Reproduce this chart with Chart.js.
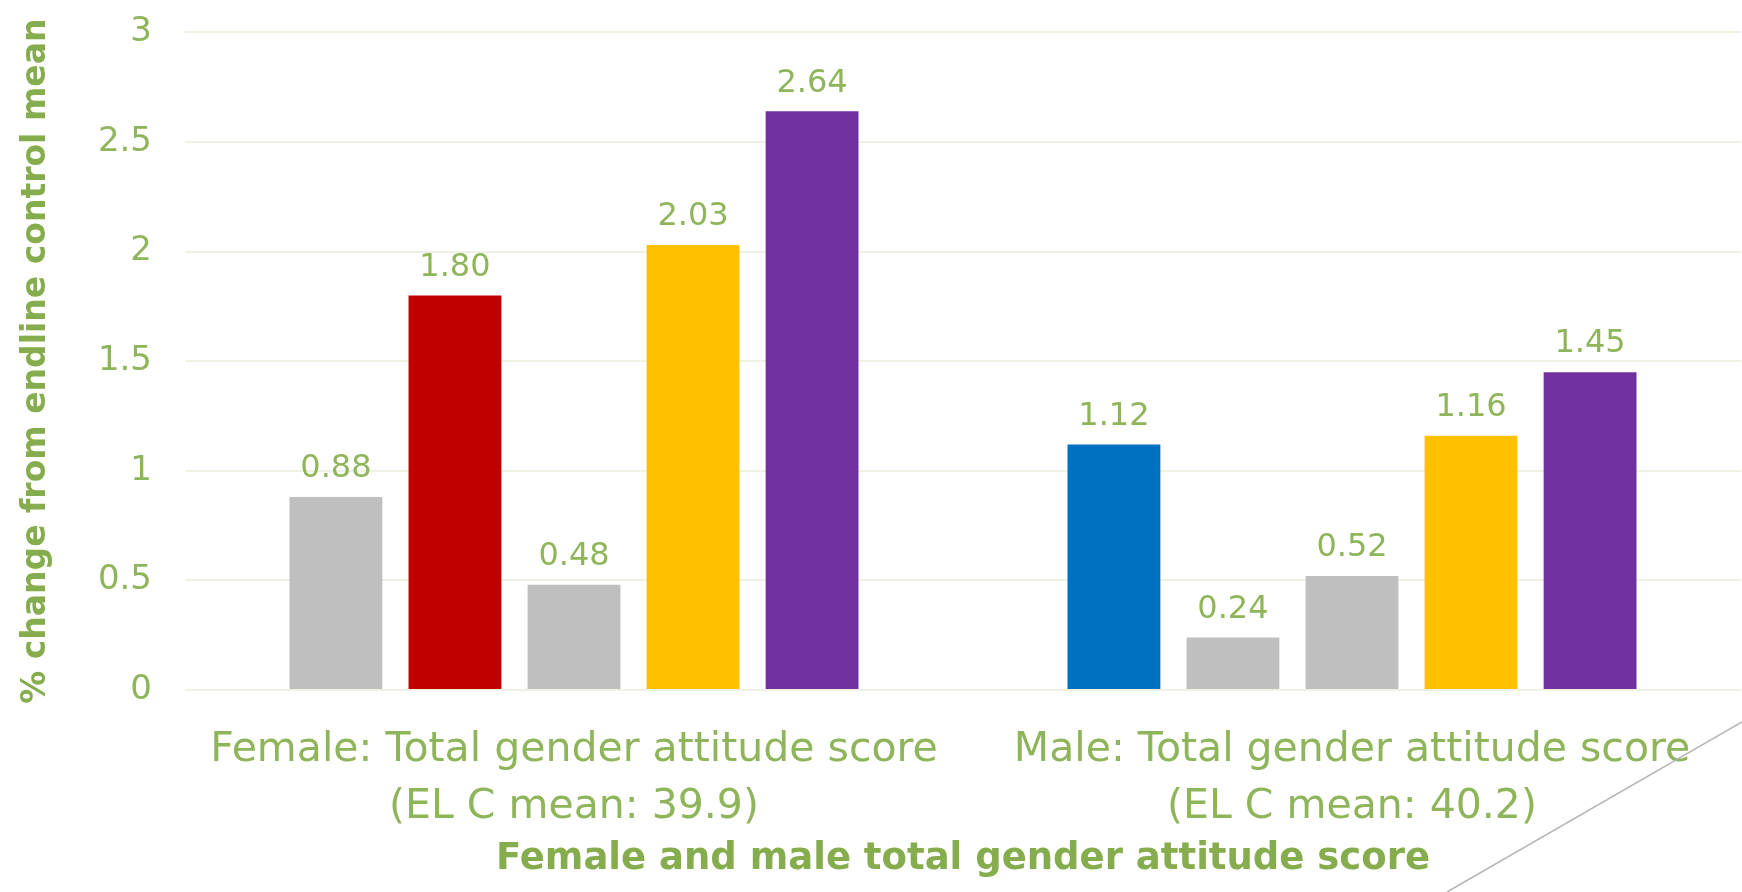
<!DOCTYPE html>
<html lang="en">
<head>
    <meta charset="UTF-8">
    <title>Female and male total gender attitude score</title>
    <script src="https://cdn.jsdelivr.net/npm/chart.js"></script>
    <style>
        html, body { margin: 0; padding: 0; background: #fff; }
        #wrap { width: 1742px; height: 892px; position: relative; }
    </style>
</head>
<body>
    <div id="wrap">
        <canvas id="attitudeChart"></canvas>
    </div>

    <script>
        const categories = [
            ['Female: Total gender attitude score', '(EL C mean: 39.9)'],
            ['Male: Total gender attitude score', '(EL C mean: 40.2)']
        ];
        const series1 = [0.88, 1.12];
        const series2 = [1.80, 0.24];
        const series3 = [0.48, 0.52];
        const series4 = [2.03, 1.16];
        const series5 = [2.64, 1.45];
        const yTickLabels = ['0', '0.5', '1', '1.5', '2', '2.5', '3'];

        const GRAY = '#bfbfbf';
        const GREEN = '#8fb55b';
        const GREEN_DARK = '#86ad4d';
        const FONT = "'DejaVu Sans', sans-serif";

        // value printed above every bar
        const barValues = {
            id: 'barValues',
            afterDatasetsDraw(chart) {
                const ctx = chart.ctx;
                ctx.save();
                ctx.font = '32px ' + FONT;
                ctx.fillStyle = GREEN;
                ctx.textAlign = 'center';
                ctx.textBaseline = 'bottom';
                chart.data.datasets.forEach((ds, i) => {
                    chart.getDatasetMeta(i).data.forEach((bar, j) => {
                        ctx.fillText(ds.data[j].toFixed(2), bar.x, bar.y - 12);
                    });
                });
                ctx.restore();
            }
        };

        // thin slide corner line
        const cornerLine = {
            id: 'cornerLine',
            afterDraw(chart) {
                const ctx = chart.ctx;
                const w = chart.width, h = chart.height;
                ctx.save();
                ctx.strokeStyle = '#b4b4b4';
                ctx.lineWidth = 1.5;
                ctx.beginPath();
                ctx.moveTo(w, h - 170);
                ctx.lineTo(w - 295, h);
                ctx.stroke();
                ctx.restore();
            }
        };

        const ctx = document.getElementById('attitudeChart').getContext('2d');
        new Chart(ctx, {
            type: 'bar',
            data: {
                labels: categories,
                datasets: [
                    { label: 'Series 1', data: series1, backgroundColor: [GRAY, '#0070c0'] },
                    { label: 'Series 2', data: series2, backgroundColor: ['#c00000', GRAY] },
                    { label: 'Series 3', data: series3, backgroundColor: GRAY },
                    { label: 'Series 4', data: series4, backgroundColor: '#ffc000' },
                    { label: 'Series 5', data: series5, backgroundColor: '#7030a0' }
                ]
            },
            options: {
                responsive: true,
                maintainAspectRatio: false,
                animation: false,
                categoryPercentage: 0.765,
                barPercentage: 0.78,
                layout: { padding: { top: 0, right: 1, left: 0, bottom: 0 } },
                plugins: {
                    legend: { display: false },
                    tooltip: { enabled: false }
                },
                scales: {
                    x: {
                        grid: { display: false },
                        border: { display: false },
                        ticks: {
                            color: GREEN,
                            font: { family: FONT, size: 41, lineHeight: 1.38 },
                            padding: 24,
                            maxRotation: 0,
                            autoSkip: false
                        },
                        title: {
                            display: true,
                            text: 'Female and male total gender attitude score',
                            color: GREEN_DARK,
                            font: { family: FONT, size: 37, weight: 'bold' },
                            padding: { top: 4, bottom: 10 }
                        },
                        afterFit(scale) { scale.height = 202; }
                    },
                    y: {
                        min: 0,
                        max: 3,
                        grid: {
                            color: '#edf2e4',
                            lineWidth: 2,
                            drawTicks: true,
                            tickLength: 21,
                            tickColor: 'rgba(0,0,0,0)'
                        },
                        border: { display: false },
                        ticks: {
                            stepSize: 0.5,
                            color: GREEN,
                            font: { family: FONT, size: 34 },
                            padding: 12,
                            callback: (value, i) => yTickLabels[i]
                        },
                        title: {
                            display: true,
                            text: '% change from endline control mean',
                            color: GREEN_DARK,
                            font: { family: FONT, size: 33, weight: 'bold' },
                            padding: { top: 17, bottom: 0 }
                        },
                        afterFit(scale) { scale.width = 185; }
                    }
                }
            },
            plugins: [barValues, cornerLine]
        });
    </script>
</body>
</html>
